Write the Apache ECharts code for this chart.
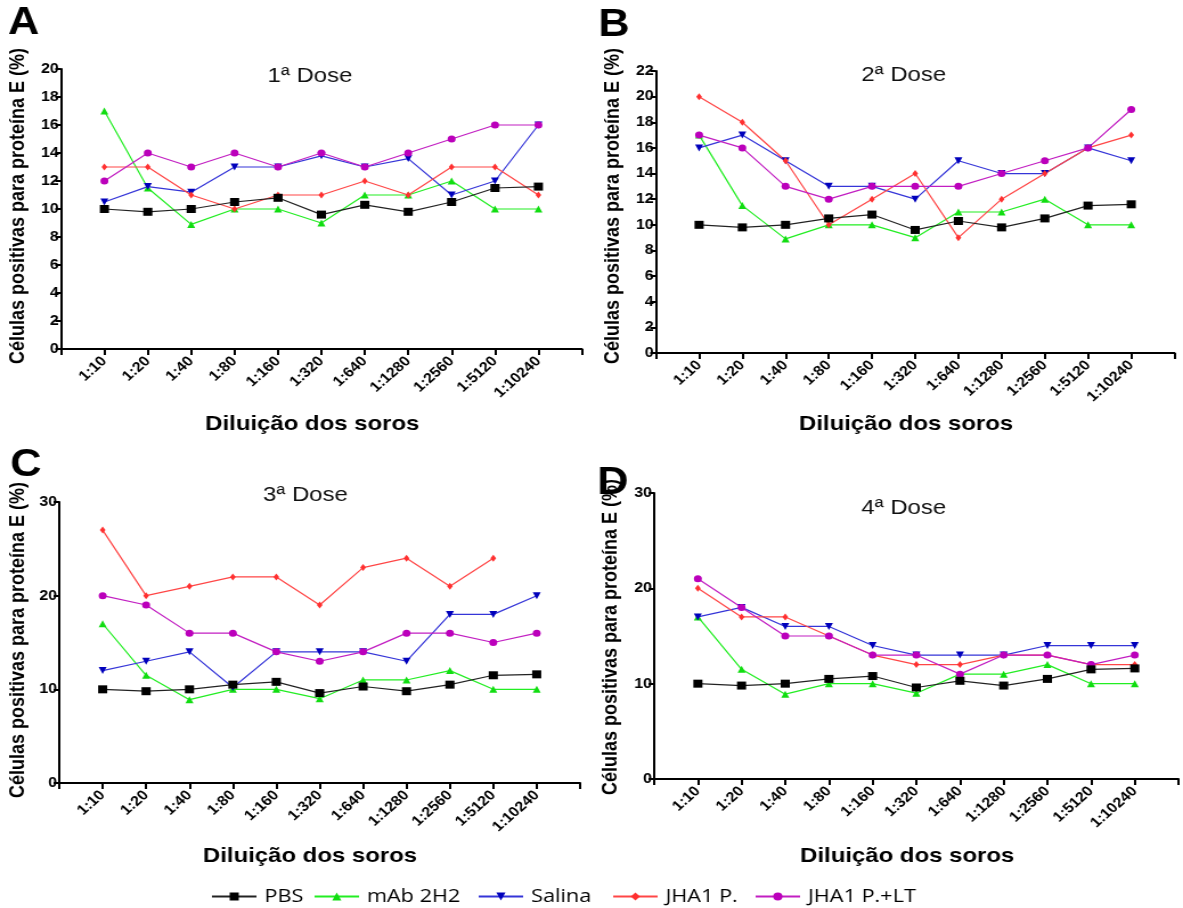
<!DOCTYPE html>
<html>
<head>
<meta charset="utf-8">
<script src="https://cdn.jsdelivr.net/npm/echarts@6/dist/echarts.min.js"></script>
<style>
  html, body { margin: 0; padding: 0; background: #fff; overflow: hidden; }
  /* The figure is laid out on a narrower canvas and widened to fill the page */
  #chart { width: 1038px; height: 908px; transform: scaleX(1.13969); transform-origin: 0 0; }
</style>
</head>
<body>
<div id="chart"></div>
<script>
// Serum dilutions (x categories)
const dilutions = ['1:10', '1:20', '1:40', '1:80', '1:160', '1:320', '1:640', '1:1280', '1:2560', '1:5120', '1:10240'];

// Control groups, shared by all four doses
const pbs = [10, 9.8, 10, 10.5, 10.8, 9.6, 10.3, 9.8, 10.5, 11.5, 11.6];
const mab2H2 = [17, 11.5, 8.9, 10, 10, 9, 11, 11, 12, 10, 10];

// 1ª Dose
const salina1 = [10.5, 11.6, 11.2, 13, 13, 13.8, 13, 13.6, 11, 12, 16];
const jha1 = [13, 13, 11, 10, 11, 11, 12, 11, 13, 13, 11];
const jhaLt1 = [12, 14, 13, 14, 13, 14, 13, 14, 15, 16, 16];

// 2ª Dose
const salina2 = [16, 17, 15, 13, 13, 12, 15, 14, 14, 16, 15];
const jha2 = [20, 18, 15, 10, 12, 14, 9, 12, 14, 16, 17];
const jhaLt2 = [17, 16, 13, 12, 13, 13, 13, 14, 15, 16, 19];

// 3ª Dose
const salina3 = [12, 13, 14, 10.2, 14, 14, 14, 13, 18, 18, 20];
const jha3 = [27, 20, 21, 22, 22, 19, 23, 24, 21, 24, null];
const jhaLt3 = [20, 19, 16, 16, 14, 13, 14, 16, 16, 15, 16];

// 4ª Dose
const salina4 = [17, 18, 16, 16, 14, 13, 13, 13, 14, 14, 14];
const jha4 = [20, 17, 17, 15, 13, 12, 12, 13, 13, 12, 12];
const jhaLt4 = [21, 18, 15, 15, 13, 13, 11, 13, 13, 12, 13];

// Y-axis ranges per panel
const yMax = [20, 22, 30, 30];
const yStep = [2, 2, 10, 10];

const panelTitles = ['1ª Dose', '2ª Dose', '3ª Dose', '4ª Dose'];
const panelLetters = ['A', 'B', 'C', 'D'];
const groupNames = ['PBS', 'mAb 2H2', 'Salina', 'JHA1 P.', 'JHA1 P.+LT'];

const FONT = '"Liberation Sans", Arial, sans-serif';

const styles = {
  'PBS':        { line: '#222222', mark: '#000000', symbol: 'rect',     size: 8 },
  'mAb 2H2':    { line: '#22ee22', mark: '#11dd11', symbol: 'triangle', size: 7 },
  'Salina':     { line: '#3535d8', mark: '#0000bb', symbol: 'triangle', size: 7, rotate: 180 },
  'JHA1 P.':    { line: '#ff4646', mark: '#ff3030', symbol: 'diamond',  size: [5, 7] },
  'JHA1 P.+LT': { line: '#c21ec2', mark: '#bb00bb', symbol: 'circle',   size: 7 }
};

// Draw order: later entries sit on top
const panels = [
  { 'mAb 2H2': mab2H2, 'Salina': salina1, 'JHA1 P.': jha1, 'JHA1 P.+LT': jhaLt1, 'PBS': pbs },
  { 'mAb 2H2': mab2H2, 'Salina': salina2, 'JHA1 P.': jha2, 'JHA1 P.+LT': jhaLt2, 'PBS': pbs },
  { 'mAb 2H2': mab2H2, 'Salina': salina3, 'JHA1 P.': jha3, 'JHA1 P.+LT': jhaLt3, 'PBS': pbs },
  { 'mAb 2H2': mab2H2, 'Salina': salina4, 'JHA1 P.': jha4, 'JHA1 P.+LT': jhaLt4, 'PBS': pbs }
];

// Plot areas (left, top, width, height)
const grids = [
  { left: 53.5, top: 69,  width: 457, height: 280 },
  { left: 575.5, top: 71, width: 455, height: 282 },
  { left: 52,   top: 502, width: 457, height: 281 },
  { left: 574,  top: 493, width: 460, height: 286 }
];

const xAxes = grids.map((g, i) => ({
  type: 'value', gridIndex: i, min: 0, max: 12, interval: 1,
  axisLine: { lineStyle: { color: '#000', width: 2 } },
  axisTick: { show: true, length: 6, lineStyle: { color: '#000', width: 2 } },
  splitLine: { show: false },
  axisLabel: {
    rotate: 45, margin: 10, color: '#000', fontFamily: FONT, fontWeight: 'bold', fontSize: 14,
    formatter: v => dilutions[v - 1] || ''
  }
}));

const yAxes = grids.map((g, i) => ({
  type: 'value', gridIndex: i, min: 0, max: yMax[i], interval: yStep[i],
  axisLine: { show: true, lineStyle: { color: '#000', width: 2 } },
  axisTick: { show: true, length: 5, lineStyle: { color: '#000', width: 2 } },
  splitLine: { show: false },
  axisLabel: { margin: 2, color: '#000', fontFamily: FONT, fontWeight: 'bold', fontSize: 14 }
}));

const series = [];
panels.forEach((p, i) => {
  Object.keys(p).forEach(name => {
    const st = styles[name];
    series.push({
      name, type: 'line', xAxisIndex: i, yAxisIndex: i,
      data: p[name].map((v, k) => [k + 1, v]),
      symbol: st.symbol, symbolSize: st.size, symbolRotate: st.rotate || 0,
      showAllSymbol: true, connectNulls: false,
      lineStyle: { color: st.line, width: 1.2 },
      itemStyle: { color: st.mark },
      emphasis: { disabled: true },
      animation: false
    });
  });
});

// Panel letters, titles and axis names
const yName = 'Células positivas para proteína E (%)';
const xName = 'Diluição dos soros';
const yNamePos = [[16.5, 206], [538, 206], [16.5, 640], [536, 637]];
const xNamePos = [[274, 424], [795, 424], [272, 856], [796, 856]];
const titlePos = [[272, 76], [793, 75], [268, 495], [793, 508]];
const letterPos = [[7, 5], [525, 7], [9, 447], [524, 465]];

const graphic = [];
for (let i = 0; i < 4; i++) {
  graphic.push({
    type: 'text', left: letterPos[i][0], top: letterPos[i][1],
    style: { text: panelLetters[i], font: 'bold 38px ' + FONT, fill: '#000' }
  });
  graphic.push({
    type: 'text', x: titlePos[i][0], y: titlePos[i][1],
    style: { text: panelTitles[i], font: '21px ' + FONT, fill: '#111', align: 'center', verticalAlign: 'middle' }
  });
  graphic.push({
    type: 'text', x: yNamePos[i][0], y: yNamePos[i][1], rotation: Math.PI / 2,
    style: { text: yName, font: 'bold 18px ' + FONT, fill: '#000', align: 'center', verticalAlign: 'middle' }
  });
  graphic.push({
    type: 'text', x: xNamePos[i][0], y: xNamePos[i][1],
    style: { text: xName, font: 'bold 21px ' + FONT, fill: '#000', align: 'center', verticalAlign: 'middle' }
  });
}

// One legend entry per group, placed along the bottom row
const legendLeft = [180, 270, 414, 532, 657];
const legends = groupNames.map((name, k) => ({
  data: [name], left: legendLeft[k], top: 882,
  itemWidth: 39, itemHeight: 10, itemGap: 0,
  textStyle: { fontFamily: '"Open Sans", sans-serif', fontSize: 19, color: '#000', padding: [0, 0, 0, 2] }
}));

const chart = echarts.init(document.getElementById('chart'), null, { renderer: 'canvas' });
chart.setOption({
  backgroundColor: '#fff',
  animation: false,
  grid: grids,
  xAxis: xAxes,
  yAxis: yAxes,
  series,
  graphic,
  legend: legends
});
</script>
</body>
</html>
